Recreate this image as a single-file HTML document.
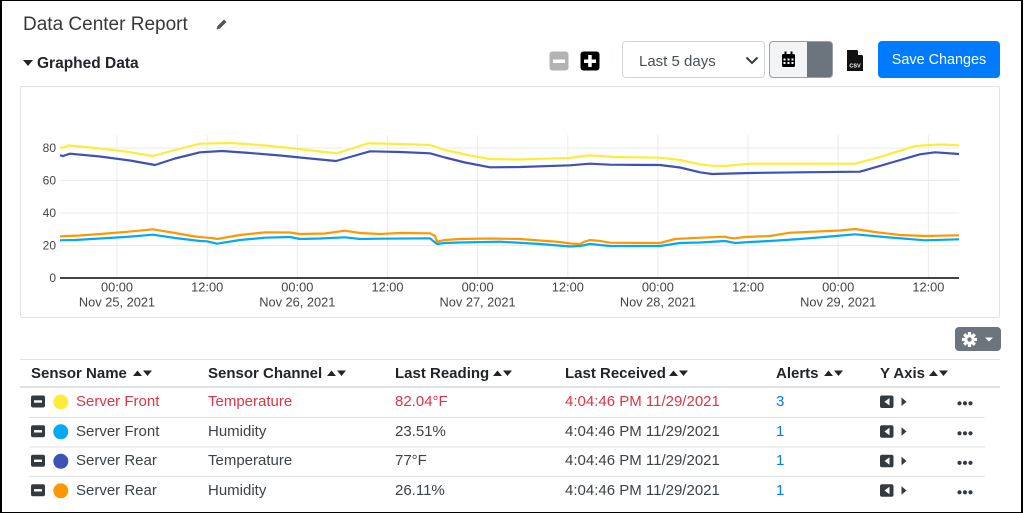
<!DOCTYPE html>
<html><head><meta charset="utf-8">
<style>
*{box-sizing:border-box;margin:0;padding:0}
html,body{width:1024px;height:513px;overflow:hidden;background:#fff}
body{position:relative;font-family:"Liberation Sans",Arial,sans-serif;color:#212529}
.a{position:absolute;white-space:nowrap}
.frame{position:absolute;left:0;top:0;width:1023px;height:513px;border-left:2px solid #000;border-top:1px solid #000;border-right:2px solid #000;border-bottom:1px solid #000;pointer-events:none}
.th{font-weight:bold;font-size:15px;line-height:20px;color:#212529;top:364px}
.td{font-size:15px;line-height:20px;color:#3d4246}
.red{color:#dc3545}
.blue{color:#007bff}
</style></head><body>

<div class="a" style="left:23px;top:13px;font-size:19px;line-height:24px;color:#383838">Data Center Report</div>
<div class="a" style="left:37px;top:54px;font-size:15.5px;line-height:20px;font-weight:bold;color:#212529">Graphed Data</div>

<!-- select -->
<div class="a" style="left:622px;top:41px;width:143px;height:37px;border:1px solid #ced4da;border-radius:4px;background:#fff"></div>
<div class="a" style="left:639px;top:52px;font-size:15px;line-height:20px;color:#495057">Last 5 days</div>
<!-- calendar group -->
<div class="a" style="left:769px;top:41px;width:64px;height:37px;border:1px solid #9aa0a6;border-radius:4px;background:#6c757d;overflow:hidden">
  <div style="position:absolute;left:0;top:0;width:37px;height:35px;background:#f3f4f5"></div>
</div>
<!-- save -->
<div class="a" style="left:878px;top:41px;width:122px;height:37px;border-radius:4px;background:#007bff;color:#fff;font-size:14.4px;line-height:39px;text-align:center">Save Changes</div>

<!-- chart container -->
<div class="a" style="left:20px;top:86px;width:980px;height:232px;border:1px solid #e3e3e3;border-radius:2px"></div>

<!-- gear button -->
<div class="a" style="left:955px;top:327px;width:46px;height:24px;border-radius:4px;background:#6c757d"></div>

<svg class="a" style="left:0;top:0" width="1024" height="513" viewBox="0 0 1024 513" xmlns="http://www.w3.org/2000/svg">
  <!-- pencil -->
  <path d="M216.5 29.5 L217.5 26 L224 19.5 L226.5 22 L220 28.5 Z" fill="#555"/>
  <!-- graphed data caret -->
  <path d="M23 60 L33 60 L28 66 Z" fill="#212529"/>
  <!-- minus / plus -->
  <rect x="549.5" y="51.5" width="19" height="19" rx="3" fill="#b3b3b3"/>
  <rect x="553" y="59.5" width="12" height="3.5" fill="#fff"/>
  <rect x="580.5" y="51.5" width="19" height="19" rx="3" fill="#000"/>
  <rect x="584" y="59.5" width="12" height="3.5" fill="#fff"/>
  <rect x="588.2" y="55" width="3.5" height="12" fill="#fff"/>
  <!-- select chevron -->
  <path d="M746.5 57.5 L752 63 L757.5 57.5" fill="none" stroke="#343a40" stroke-width="2"/>
  <!-- calendar icon -->
  <rect x="782" y="54" width="13" height="13" rx="1.5" fill="#000"/>
  <rect x="784.5" y="51.5" width="2" height="4" fill="#000"/>
  <rect x="790.5" y="51.5" width="2" height="4" fill="#000"/>
  <g fill="#fff">
    <rect x="783.5" y="58.5" width="2" height="2"/><rect x="787.5" y="58.5" width="2" height="2"/><rect x="791.5" y="58.5" width="2" height="2"/>
    <rect x="783.5" y="62" width="2" height="2"/><rect x="787.5" y="62" width="2" height="2"/><rect x="791.5" y="62" width="2" height="2"/>
  </g>
  <!-- csv icon -->
  <path d="M847 50 L857 50 L863 56 L863 71 L847 71 Z" fill="#111"/>
  <path d="M857 50 L857 56 L863 56 Z" fill="#fff"/>
  <path d="M857.5 50.5 L857.5 55.5 L862.5 55.5" fill="none" stroke="#111" stroke-width="1"/>
  <text x="855" y="67.5" font-size="5.5" font-weight="bold" fill="#fff" text-anchor="middle" font-family="Liberation Sans, sans-serif">CSV</text>

  <!-- chart gridlines -->
  <g stroke="#ebebeb" stroke-width="1">
    <line x1="60" y1="245.5" x2="959" y2="245.5"/>
    <line x1="60" y1="213" x2="959" y2="213"/>
    <line x1="60" y1="180.5" x2="959" y2="180.5"/>
    <line x1="60" y1="148" x2="959" y2="148"/>
    <line x1="117" y1="135" x2="117" y2="278"/>
    <line x1="207.2" y1="135" x2="207.2" y2="278"/>
    <line x1="297.3" y1="135" x2="297.3" y2="278"/>
    <line x1="387.5" y1="135" x2="387.5" y2="278"/>
    <line x1="477.6" y1="135" x2="477.6" y2="278"/>
    <line x1="567.8" y1="135" x2="567.8" y2="278"/>
    <line x1="657.9" y1="135" x2="657.9" y2="278"/>
    <line x1="748.1" y1="135" x2="748.1" y2="278"/>
    <line x1="838.2" y1="135" x2="838.2" y2="278"/>
    <line x1="928.4" y1="135" x2="928.4" y2="278"/>
  </g>
  <line x1="60" y1="278" x2="959" y2="278" stroke="#444" stroke-width="2"/>
  <g font-family="Liberation Sans, sans-serif" font-size="12" fill="#444" text-anchor="end">
    <text x="56" y="282">0</text>
    <text x="56" y="249.5">20</text>
    <text x="56" y="217">40</text>
    <text x="56" y="184.5">60</text>
    <text x="56" y="152">80</text>
  </g>
  <g font-family="Liberation Sans, sans-serif" font-size="12.8" fill="#444" text-anchor="middle">
    <text x="117" y="291.5">00:00</text>
    <text x="207.2" y="291.5">12:00</text>
    <text x="297.3" y="291.5">00:00</text>
    <text x="387.5" y="291.5">12:00</text>
    <text x="477.6" y="291.5">00:00</text>
    <text x="567.8" y="291.5">12:00</text>
    <text x="657.9" y="291.5">00:00</text>
    <text x="748.1" y="291.5">12:00</text>
    <text x="838.2" y="291.5">00:00</text>
    <text x="928.4" y="291.5">12:00</text>
    <text x="117" y="306.5">Nov 25, 2021</text>
    <text x="297.3" y="306.5">Nov 26, 2021</text>
    <text x="477.6" y="306.5">Nov 27, 2021</text>
    <text x="657.9" y="306.5">Nov 28, 2021</text>
    <text x="838.2" y="306.5">Nov 29, 2021</text>
  </g>
  <g fill="none" stroke-width="2.2" stroke-linejoin="round">
    <polyline stroke="#ffeb3b" points="60,147.7 64,147.5 68,145.5 75,146 100,148.5 125,151.5 153,156 175,150 200,143.7 230,143 260,145 290,148 320,151.5 337,153.3 350,149 368,143.3 400,144 430,145 445,150 470,155.5 490,159 520,159.5 545,158.7 570,158 580,156.5 590,155.3 615,157 660,157.7 680,160 700,164.3 712,165.7 725,166 750,163.7 800,163.7 855,163.7 880,157 915,146 940,144.5 959,145.3"/>
    <polyline stroke="#3f51b5" points="60,155.3 63,156 70,153.7 100,156.5 130,160.5 155,165 175,158.5 200,152.3 222,151 250,153 280,155.5 310,158.5 336,161 350,157 370,151.3 400,152 430,153.3 445,157.5 465,162.5 490,167.3 520,167 570,165.3 590,163.7 610,164.7 660,165 680,167.5 700,172.3 712,174 750,173 800,172.3 860,171.7 890,163 920,154.3 935,152.3 959,154"/>
    <polyline stroke="#03a9f4" points="60,240.3 75,240 100,238.5 125,237 153,234.7 175,238 200,241 207,241.3 217,243.7 240,240 265,237.7 290,237 300,239 320,238.5 345,237.3 360,239 380,238.7 430,238.3 437,244 445,243 460,242.5 500,241.7 540,244 570,246.5 580,246 590,244 600,245 610,246 660,246 680,243 700,242.5 725,241 735,243 750,242 770,241 800,239 830,236.5 855,234.3 890,237.5 925,240.3 959,239.3"/>
    <polyline stroke="#ff9800" points="60,236.3 80,235.5 100,234 125,232 153,229.3 175,233 195,236.5 207,237.7 212,238 217,239 240,235 265,232.3 290,232.5 300,234 325,233.5 345,230.7 360,233 380,234 400,233 430,233.3 435,236 437,241.7 445,240 460,239 490,238.5 520,239 540,240.5 560,242 570,243.5 580,244 585,241.5 590,240 600,241 610,242.7 660,243 675,239 700,237.7 725,236.7 730,238 735,238.3 745,237 770,236 790,232.7 840,230.5 855,229 875,232 900,235 925,236 959,235.3"/>
  </g>

  <!-- gear icon -->
  <g transform="translate(969.5,339.5)" fill="#fff">
    <circle r="5.2"/>
    <g>
      <rect x="-1.6" y="-7.5" width="3.2" height="15"/>
      <rect x="-1.6" y="-7.5" width="3.2" height="15" transform="rotate(45)"/>
      <rect x="-1.6" y="-7.5" width="3.2" height="15" transform="rotate(90)"/>
      <rect x="-1.6" y="-7.5" width="3.2" height="15" transform="rotate(135)"/>
    </g>
    <circle r="2.2" fill="#6c757d"/>
  </g>
  <path d="M985 337.5 L993 337.5 L989 341.5 Z" fill="#fff"/>

  <!-- table lines -->
  <line x1="20" y1="359.5" x2="1000" y2="359.5" stroke="#dee2e6" stroke-width="1"/>
  <line x1="20" y1="387" x2="1000" y2="387" stroke="#dee2e6" stroke-width="2"/>
  <g stroke="#dee2e6" stroke-width="1">
    <line x1="29" y1="417.5" x2="985" y2="417.5"/>
    <line x1="29" y1="447" x2="985" y2="447"/>
    <line x1="29" y1="476.5" x2="985" y2="476.5"/>
  </g>

  <!-- sort arrows -->
  <g fill="#212529">
    <path d="M133 376 L137.5 370.5 L142 376 Z M143 370.5 L152 370.5 L147.5 376 Z"/>
    <path d="M327 376 L331.5 370.5 L336 376 Z M337 370.5 L346 370.5 L341.5 376 Z"/>
    <path d="M493 376 L497.5 370.5 L502 376 Z M503 370.5 L512 370.5 L507.5 376 Z"/>
    <path d="M669 376 L673.5 370.5 L678 376 Z M679 370.5 L688 370.5 L683.5 376 Z"/>
    <path d="M824 376 L828.5 370.5 L833 376 Z M834 370.5 L843 370.5 L838.5 376 Z"/>
    <path d="M929 376 L933.5 370.5 L938 376 Z M939 370.5 L948 370.5 L943.5 376 Z"/>
  </g>

  <!-- row icons -->
  <g>
    <!-- row1 -->
    <rect x="31" y="395.5" width="14" height="12" rx="2" fill="#343a40"/><rect x="34" y="400.3" width="8" height="2.4" fill="#fff"/>
    <circle cx="60.8" cy="402" r="7.5" fill="#ffeb3b"/>
    <rect x="880" y="395.5" width="13.5" height="12.5" rx="2" fill="#343a40"/><path d="M889.5 398 L889.5 405.5 L884.5 401.7 Z" fill="#fff"/>
    <path d="M901.5 397.5 L906.5 401.7 L901.5 406 Z" fill="#343a40"/>
    <circle cx="959.5" cy="403.3" r="2.1" fill="#343a40"/><circle cx="965" cy="403.3" r="2.1" fill="#343a40"/><circle cx="970.5" cy="403.3" r="2.1" fill="#343a40"/>
    <!-- row2 -->
    <rect x="31" y="425.3" width="14" height="12" rx="2" fill="#343a40"/><rect x="34" y="430.1" width="8" height="2.4" fill="#fff"/>
    <circle cx="60.8" cy="431.8" r="7.5" fill="#03a9f4"/>
    <rect x="880" y="425.3" width="13.5" height="12.5" rx="2" fill="#343a40"/><path d="M889.5 427.8 L889.5 435.3 L884.5 431.5 Z" fill="#fff"/>
    <path d="M901.5 427.3 L906.5 431.5 L901.5 435.8 Z" fill="#343a40"/>
    <circle cx="959.5" cy="433.3" r="2.1" fill="#343a40"/><circle cx="965" cy="433.3" r="2.1" fill="#343a40"/><circle cx="970.5" cy="433.3" r="2.1" fill="#343a40"/>
    <!-- row3 -->
    <rect x="31" y="454.8" width="14" height="12" rx="2" fill="#343a40"/><rect x="34" y="459.6" width="8" height="2.4" fill="#fff"/>
    <circle cx="60.8" cy="461.3" r="7.5" fill="#3f51b5"/>
    <rect x="880" y="454.8" width="13.5" height="12.5" rx="2" fill="#343a40"/><path d="M889.5 457.3 L889.5 464.8 L884.5 461 Z" fill="#fff"/>
    <path d="M901.5 456.8 L906.5 461 L901.5 465.3 Z" fill="#343a40"/>
    <circle cx="959.5" cy="462.8" r="2.1" fill="#343a40"/><circle cx="965" cy="462.8" r="2.1" fill="#343a40"/><circle cx="970.5" cy="462.8" r="2.1" fill="#343a40"/>
    <!-- row4 -->
    <rect x="31" y="484.3" width="14" height="12" rx="2" fill="#343a40"/><rect x="34" y="489.1" width="8" height="2.4" fill="#fff"/>
    <circle cx="60.8" cy="490.8" r="7.5" fill="#ff9800"/>
    <rect x="880" y="484.3" width="13.5" height="12.5" rx="2" fill="#343a40"/><path d="M889.5 486.8 L889.5 494.3 L884.5 490.5 Z" fill="#fff"/>
    <path d="M901.5 486.3 L906.5 490.5 L901.5 494.8 Z" fill="#343a40"/>
    <circle cx="959.5" cy="492.3" r="2.1" fill="#343a40"/><circle cx="965" cy="492.3" r="2.1" fill="#343a40"/><circle cx="970.5" cy="492.3" r="2.1" fill="#343a40"/>
  </g>
</svg>

<!-- table header -->
<div class="a th" style="left:31px">Sensor Name</div>
<div class="a th" style="left:208px">Sensor Channel</div>
<div class="a th" style="left:395px">Last Reading</div>
<div class="a th" style="left:565px">Last Received</div>
<div class="a th" style="left:776px">Alerts</div>
<div class="a th" style="left:880px">Y Axis</div>

<!-- row 1 -->
<div class="a td red" style="left:76px;top:392px">Server Front</div>
<div class="a td red" style="left:208px;top:392px">Temperature</div>
<div class="a td red" style="left:395px;top:392px">82.04°F</div>
<div class="a td red" style="left:565px;top:392px">4:04:46 PM 11/29/2021</div>
<div class="a td blue" style="left:776px;top:392px">3</div>
<!-- row 2 -->
<div class="a td" style="left:76px;top:421.7px">Server Front</div>
<div class="a td" style="left:208px;top:421.7px">Humidity</div>
<div class="a td" style="left:395px;top:421.7px">23.51%</div>
<div class="a td" style="left:565px;top:421.7px">4:04:46 PM 11/29/2021</div>
<div class="a td blue" style="left:776px;top:421.7px">1</div>
<!-- row 3 -->
<div class="a td" style="left:76px;top:451.3px">Server Rear</div>
<div class="a td" style="left:208px;top:451.3px">Temperature</div>
<div class="a td" style="left:395px;top:451.3px">77°F</div>
<div class="a td" style="left:565px;top:451.3px">4:04:46 PM 11/29/2021</div>
<div class="a td blue" style="left:776px;top:451.3px">1</div>
<!-- row 4 -->
<div class="a td" style="left:76px;top:481px">Server Rear</div>
<div class="a td" style="left:208px;top:481px">Humidity</div>
<div class="a td" style="left:395px;top:481px">26.11%</div>
<div class="a td" style="left:565px;top:481px">4:04:46 PM 11/29/2021</div>
<div class="a td blue" style="left:776px;top:481px">1</div>

<div class="frame"></div>
</body></html>
